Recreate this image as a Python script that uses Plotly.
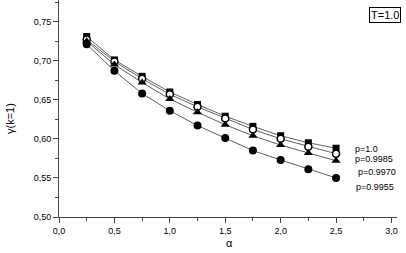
import plotly.graph_objects as go

alpha = [0.25, 0.5, 0.75, 1.0, 1.25, 1.5, 1.75, 2.0, 2.25, 2.5]
p_labels = ["p=1.0", "p=0.9985", "p=0.9970", "p=0.9955"]
gamma_p10000 = [0.731, 0.701, 0.680, 0.660, 0.644, 0.629, 0.616, 0.604, 0.595, 0.588]
gamma_p09985 = [0.727, 0.699, 0.677, 0.657, 0.641, 0.626, 0.612, 0.600, 0.590, 0.581]
gamma_p09970 = [0.725, 0.695, 0.672, 0.651, 0.634, 0.618, 0.604, 0.592, 0.582, 0.572]
gamma_p09955 = [0.721, 0.687, 0.658, 0.636, 0.617, 0.601, 0.585, 0.573, 0.561, 0.550]
label_y = [0.5865, 0.5745, 0.558, 0.538]
label_x = [2.65, 2.65, 2.68, 2.66]

FONT = "Liberation Sans, Arial, sans-serif"
series = [
    (gamma_p10000, dict(symbol="square", size=7, color="black")),
    (gamma_p09985, dict(symbol="circle", size=7, color="white", line=dict(color="black", width=1.5))),
    (gamma_p09970, dict(symbol="triangle-up", size=8, color="black")),
    (gamma_p09955, dict(symbol="circle", size=8, color="black")),
]

fig = go.Figure()
for vals, mk in series:
    fig.add_trace(go.Scatter(x=alpha, y=vals, mode="lines+markers",
                             line=dict(color="#606060", width=1), marker=mk,
                             showlegend=False, cliponaxis=False))

for lab, lx, ly in zip(p_labels, label_x, label_y):
    fig.add_annotation(x=lx, y=ly, xref="x", yref="y", text=lab, showarrow=False,
                       xanchor="left", yanchor="middle",
                       font=dict(family=FONT, size=9, color="black"))

fig.add_annotation(x=1.0, y=1.0, xref="paper", yref="paper", text="T=1.0", showarrow=False,
                   xanchor="right", yanchor="top", xshift=4, yshift=-7,
                   bordercolor="black", borderwidth=1, borderpad=1, bgcolor="white",
                   font=dict(family=FONT, size=11, color="black"))

fig.add_annotation(x=0.503, y=-0.12, xref="paper", yref="paper", text="α", showarrow=False,
                   xanchor="center", yanchor="middle",
                   font=dict(family=FONT, size=11, color="black"))
fig.add_annotation(x=-0.145, y=0.456, xref="paper", yref="paper", text="γ(k=1)", showarrow=False,
                   textangle=-90, xanchor="center", yanchor="middle",
                   font=dict(family=FONT, size=11, color="black"))

fig.update_layout(
    width=406, height=253,
    margin=dict(l=59, r=9, t=0, b=36, pad=0, autoexpand=False),
    paper_bgcolor="white", plot_bgcolor="white",
    separators=",.",
    font=dict(family=FONT, size=9, color="black"),
    xaxis=dict(range=[0, 3.05], tickvals=[0, 0.5, 1.0, 1.5, 2.0, 2.5, 3.0], tickformat=".1f",
               ticks="outside", ticklen=5, tickcolor="#444", showline=True, linecolor="#444",
               linewidth=1, showgrid=False, zeroline=False, automargin=False,
               minor=dict(tickvals=[0.25, 0.75, 1.25, 1.75, 2.25, 2.75], ticks="outside",
                          ticklen=3, tickcolor="#444")),
    yaxis=dict(range=[0.5, 0.7777], tickvals=[0.50, 0.55, 0.60, 0.65, 0.70, 0.75], tickformat=".2f",
               ticks="outside", ticklen=5, tickcolor="#444", showline=True, linecolor="#444",
               linewidth=1, showgrid=False, zeroline=False, automargin=False,
               minor=dict(tickvals=[0.525, 0.575, 0.625, 0.675, 0.725, 0.775], ticks="outside",
                          ticklen=3, tickcolor="#444")),
)

fig.write_html("out.html", config={"displayModeBar": False},
               post_script="document.body.style.margin='0';")
